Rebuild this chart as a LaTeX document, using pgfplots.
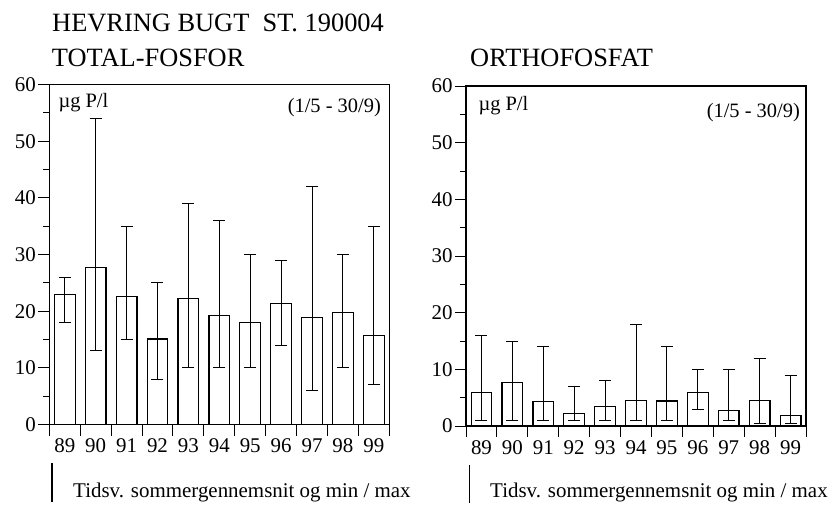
\documentclass[border=0pt]{standalone}
\usepackage{fontspec}
\setmainfont{Liberation Serif}
\usepackage{pgfplots}
\usepackage{pgfplotstable}
\pgfplotsset{compat=1.18}

% year index, mean, min, max
\pgfplotstableread{
x y lo hi
0 23.0 18 26
1 27.7 13 54
2 22.6 15 35
3 15.1 8 25
4 22.3 10 39
5 19.3 10 36
6 18.0 10 30
7 21.4 14 29
8 18.9 6 42
9 19.7 10 30
10 15.7 7 35
}\totalP

\pgfplotstableread{
x y lo hi
0 5.9 0.9 16
1 7.7 0.9 15
2 4.3 0.9 14
3 2.2 0.9 7
4 3.5 0.9 8
5 4.5 0.9 18
6 4.4 0.9 14
7 5.9 2.9 10
8 2.8 0.9 10
9 4.5 0.4 12
10 1.8 0.4 9
}\orthoP

\pgfplotsset{hevring/.style={
  scale only axis, width=340bp, height=340bp,
  xmin=-0.5, xmax=10.5, ymin=0, ymax=60,
  axis line style={line width=1.2bp},
  xtick={-0.5,0.5,...,10.5}, x tick label as interval,
  xticklabels={89,90,91,92,93,94,95,96,97,98,99},
  ytick={0,10,...,60}, minor y tick num=1,
  tick align=outside, xtick pos=bottom, ytick pos=left,
  major tick length=11bp, minor tick length=6bp,
  every tick/.style={black, line width=1bp},
  tick label style={font=\fontsize{21}{21}\selectfont},
  yticklabel style={xshift=1bp},
  /pgf/number format/assume math mode=true,
}}

\pgfplotsset{bars/.style={ybar, bar width=20.7bp, fill=white, draw=black, line width=1.2bp,
  error bars/.cd, y dir=both, y explicit,
  error bar style={line width=1bp, black},
  error mark options={black, line width=1bp, mark size=6bp, rotate=90}}}

\begin{document}
\begin{tikzpicture}
\useasboundingbox (0,0) rectangle (835bp,-505bp);

\begin{axis}[hevring, at={(49.3bp,-424.5bp)}, anchor=south west]
\addplot[bars] table[x=x, y=y, y error plus expr=\thisrow{hi}-\thisrow{y}, y error minus expr=\thisrow{y}-\thisrow{lo}] {\totalP};
\end{axis}

\begin{axis}[hevring, at={(466bp,-426bp)}, anchor=south west]
\addplot[bars] table[x=x, y=y, y error plus expr=\thisrow{hi}-\thisrow{y}, y error minus expr=\thisrow{y}-\thisrow{lo}] {\orthoP};
\end{axis}

\begin{scope}[every node/.style={inner sep=0pt}]
\node[anchor=base west, font=\fontsize{26.5}{26.5}\selectfont] at (52bp,-31.7bp) {HEVRING BUGT\ \ ST. 190004};
\node[anchor=base west, font=\fontsize{26.5}{26.5}\selectfont] at (51.7bp,-66bp) {TOTAL-FOSFOR};
\node[anchor=base west, font=\fontsize{26.5}{26.5}\selectfont] at (470bp,-66bp) {ORTHOFOSFAT};

\node[anchor=base west, font=\fontsize{20.5}{20.5}\selectfont] at (58.3bp,-107bp) {µg P/l};
\node[anchor=base east, font=\fontsize{20.5}{20.5}\selectfont] at (381bp,-112bp) {(1/5 - 30/9)};
\node[anchor=base west, font=\fontsize{20.5}{20.5}\selectfont] at (478.3bp,-110bp) {µg P/l};
\node[anchor=base east, font=\fontsize{20.5}{20.5}\selectfont] at (800bp,-117bp) {(1/5 - 30/9)};

\draw[line width=1.2bp] (52bp,-463bp) -- (52bp,-502bp);
\node[anchor=base west, font=\fontsize{21}{21}\selectfont] at (73bp,-497bp) {Tidsv. sommergennemsnit og min / max};
\draw[line width=1.2bp] (469.3bp,-465bp) -- (469.3bp,-503bp);
\node[anchor=base west, font=\fontsize{21}{21}\selectfont] at (490bp,-497bp) {Tidsv. sommergennemsnit og min / max};
\end{scope}
\end{tikzpicture}
\end{document}
